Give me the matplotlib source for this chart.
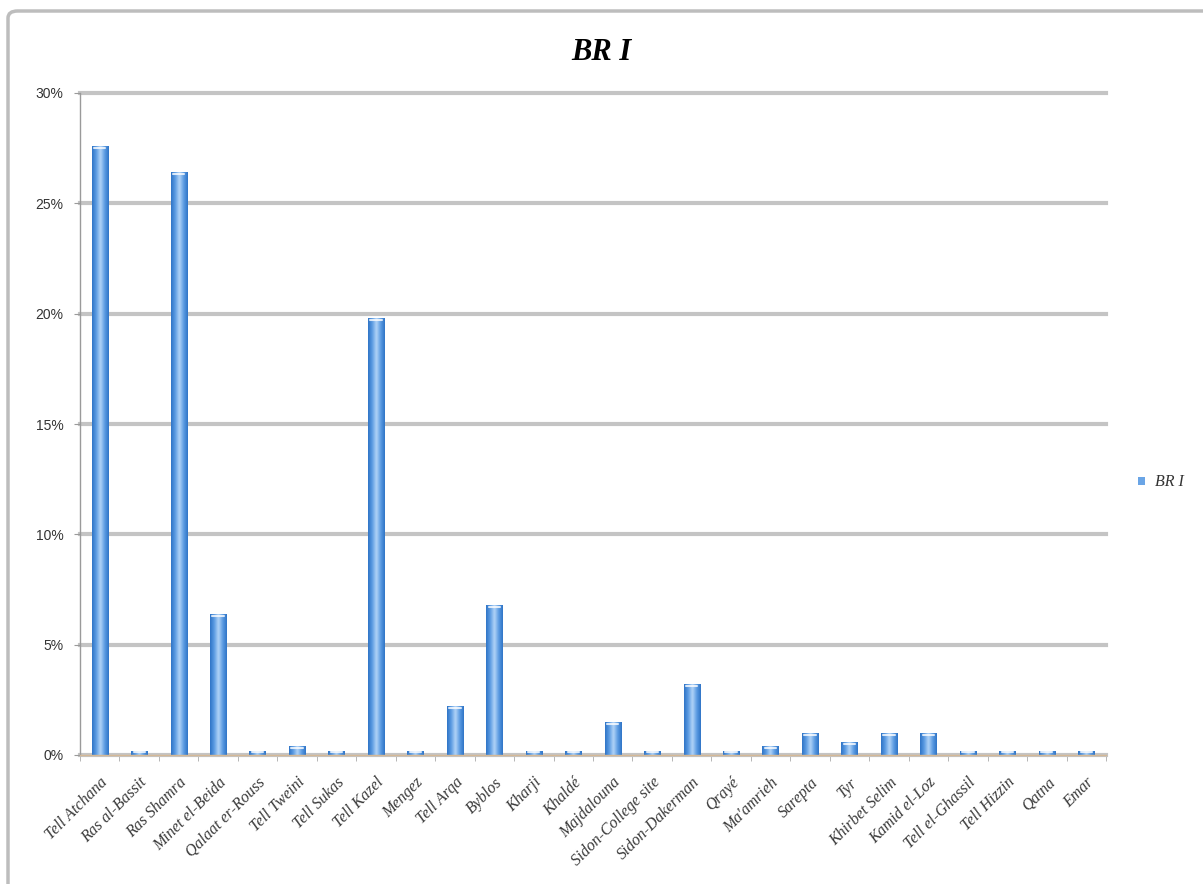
import matplotlib
matplotlib.use("Agg")
import matplotlib.pyplot as plt
import numpy as np
from matplotlib.patches import FancyBboxPatch
from matplotlib.colors import LinearSegmentedColormap
from matplotlib.ticker import FuncFormatter, FixedLocator

sites = ["Tell Atchana", "Ras al-Bassit", "Ras Shamra", "Minet el-Beida", "Qalaat er-Rouss",
         "Tell Tweini", "Tell Sukas", "Tell Kazel", "Mengez", "Tell Arqa", "Byblos", "Kharji",
         "Khaldé", "Majdalouna", "Sidon-College site", "Sidon-Dakerman", "Qrayé", "Ma'amrieh",
         "Sarepta", "Tyr", "Khirbet Selim", "Kamid el-Loz", "Tell el-Ghassil", "Tell Hizzin",
         "Qatna", "Emar"]
br1 = [27.6, 0.2, 26.4, 6.4, 0.2, 0.4, 0.2, 19.8, 0.2, 2.2, 6.8, 0.2, 0.2, 1.5, 0.2, 3.2,
       0.2, 0.4, 1.0, 0.6, 1.0, 1.0, 0.2, 0.2, 0.2, 0.2]
yticks = [0, 5, 10, 15, 20, 25, 30]

W, H = 1203, 884
fig = plt.figure(figsize=(W / 100, H / 100), dpi=100)
fig.patch.set_facecolor("white")

# outer frame
frame = FancyBboxPatch((8 / W, -0.05), 1.05, 1 - 11 / H + 0.05,
                       boxstyle="round,pad=0,rounding_size=0.008",
                       transform=fig.transFigure, fill=False, ec="#bdbdbd", lw=2.5)
fig.patches.append(frame)

ax = fig.add_axes([80 / W, 1 - 755 / H, 1026 / W, (755 - 93) / H])
x = np.arange(len(sites))
bars = ax.bar(x, br1, width=0.41, color="#6aa5e6", zorder=3)

cmap = LinearSegmentedColormap.from_list("cyl", ["#2f74c6", "#5d9de3", "#b3d4f7", "#5d9de3", "#2f74c6"])
grad = np.linspace(0, 1, 64).reshape(1, -1)
for b in bars:
    bx, by = b.get_x(), b.get_y()
    bw, bh = b.get_width(), b.get_height()
    im = ax.imshow(grad, cmap=cmap, aspect="auto", extent=[bx, bx + bw, by, by + bh],
                   zorder=4, interpolation="bicubic")
    im.set_clip_path(b)
    ax.plot([bx + bw * 0.15, bx + bw * 0.85], [by + bh - 0.08, by + bh - 0.08],
            color="white", lw=1.5, alpha=0.8, zorder=5, solid_capstyle="round")

ax.set_xlim(-0.5, len(sites) - 0.5)
ax.set_ylim(0, 30)
ax.set_yticks(yticks)
ax.yaxis.set_major_formatter(FuncFormatter(lambda v, p: f"{int(v)}%"))
ax.grid(axis="y", color="#c4c4c4", lw=3, zorder=1)
for gl in ax.get_ygridlines():
    gl.set_clip_on(False)
ax.set_axisbelow(True)

for s in ["top", "right"]:
    ax.spines[s].set_visible(False)
ax.spines["left"].set_color("#9a9a9a")
ax.spines["left"].set_linewidth(1)
ax.spines["bottom"].set_color("#d4b896")
ax.spines["bottom"].set_linewidth(1)
ax.spines["bottom"].set_zorder(6)

ax.tick_params(axis="y", length=4, color="#9a9a9a", labelsize=10, labelcolor="#333333", pad=8)
for lab in ax.get_yticklabels():
    lab.set_family("Liberation Sans")

ax.set_xticks(x)
ax.set_xticklabels(sites, rotation=45, ha="right", va="top", rotation_mode="anchor",
                   fontsize=11.5, family="Liberation Serif", style="italic", color="#3a3a3a")
ax.tick_params(axis="x", which="major", length=0, pad=14)
ax.xaxis.set_minor_locator(FixedLocator(np.arange(-0.5, len(sites), 1.0)))
ax.tick_params(axis="x", which="minor", length=4, color="#aaaaaa")

fig.text(0.5, 1 - 53 / H, "BR I", ha="center", va="center", fontsize=22,
         family="Liberation Serif", style="italic", weight="bold")

# legend
fig.patches.append(plt.Rectangle((1138 / W, 1 - 485 / H), 7 / W, 8 / H,
                                 transform=fig.transFigure, fc="#6aa5e6", ec="none"))
fig.text(1155 / W, 1 - 482 / H, "BR I", ha="left", va="center", fontsize=11.5,
         family="Liberation Serif", style="italic", color="#333333")

fig.savefig("out.png", dpi=100)
